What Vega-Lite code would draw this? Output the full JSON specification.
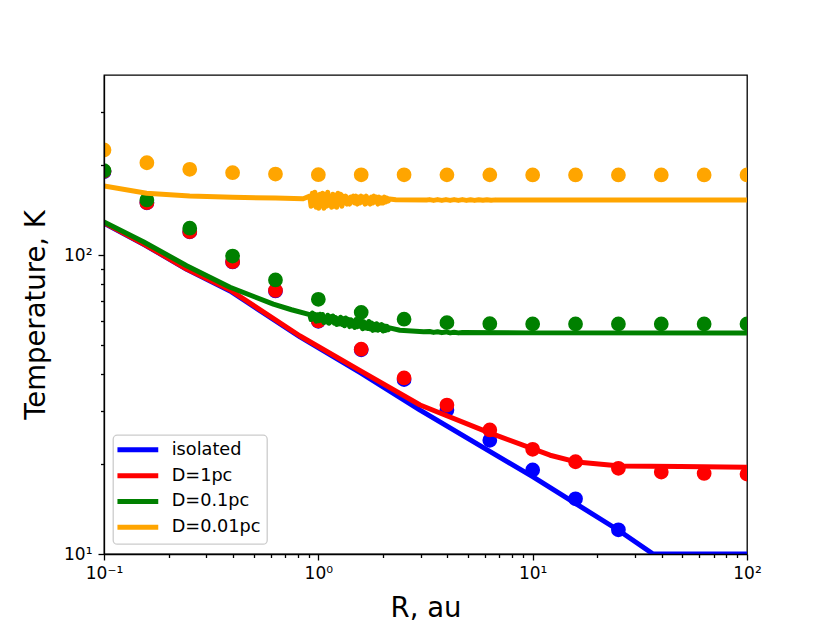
{
  "$schema": "https://vega.github.io/schema/vega-lite/v6.json",
  "width": 643,
  "height": 479,
  "autosize": "none",
  "padding": {"left": 104, "top": 75, "right": 83, "bottom": 69},
  "background": "white",
  "config": {
    "font": "DejaVu Sans",
    "view": {"stroke": "black", "strokeWidth": 1.3},
    "legend": {
      "fillColor": "rgba(255,255,255,0.8)",
      "strokeColor": "#cccccc",
      "strokeWidth": 1.3,
      "cornerRadius": 4,
      "padding": 6,
      "rowPadding": 4.8,
      "labelFont": "DejaVu Sans",
      "labelFontSize": 17.7,
      "labelColor": "black",
      "symbolType": "M-3.4,0H3.4",
      "symbolSize": 144,
      "symbolStrokeWidth": 5,
      "symbolOffset": 10,
      "labelOffset": 25
    }
  },
  "datasets": {
    "lines": [
      {"s": "isolated", "R": 0.1, "T": 127.9},
      {"s": "isolated", "R": 0.1553, "T": 108.0},
      {"s": "isolated", "R": 0.2431, "T": 89.6},
      {"s": "isolated", "R": 0.3873, "T": 75.8},
      {"s": "isolated", "R": 0.8216, "T": 53.2},
      {"s": "isolated", "R": 1.582, "T": 40.3},
      {"s": "isolated", "R": 2.983, "T": 30.3},
      {"s": "isolated", "R": 10.04, "T": 18.1},
      {"s": "isolated", "R": 25.03, "T": 12.03},
      {"s": "isolated", "R": 36.46, "T": 10},
      {"s": "isolated", "R": 100, "T": 10},

      {"s": "D=1pc", "R": 0.1, "T": 128.2},
      {"s": "D=1pc", "R": 0.1553, "T": 108.2},
      {"s": "D=1pc", "R": 0.2431, "T": 89.8},
      {"s": "D=1pc", "R": 0.3873, "T": 76.4},
      {"s": "D=1pc", "R": 0.8216, "T": 53.6},
      {"s": "D=1pc", "R": 1.582, "T": 40.9},
      {"s": "D=1pc", "R": 2.983, "T": 31.5},
      {"s": "D=1pc", "R": 6.127, "T": 25.6},
      {"s": "D=1pc", "R": 12.06, "T": 21.4},
      {"s": "D=1pc", "R": 16.11, "T": 20.3},
      {"s": "D=1pc", "R": 25.57, "T": 19.7},
      {"s": "D=1pc", "R": 48.8, "T": 19.6},
      {"s": "D=1pc", "R": 100, "T": 19.5},

      {"s": "D=0.1pc", "R": 0.1, "T": 129},
      {"s": "D=0.1pc", "R": 0.1526, "T": 110.8},
      {"s": "D=0.1pc", "R": 0.2431, "T": 92.1},
      {"s": "D=0.1pc", "R": 0.3873, "T": 78.0},
      {"s": "D=0.1pc", "R": 0.6166, "T": 68.5},
      {"s": "D=0.1pc", "R": 0.75, "T": 65.6},
      {"s": "D=0.1pc", "R": 0.9120, "T": 63.22},
      {"s": "D=0.1pc", "R": 0.9247, "T": 60.83},
      {"s": "D=0.1pc", "R": 0.9376, "T": 63.96},
      {"s": "D=0.1pc", "R": 0.9506, "T": 61.10},
      {"s": "D=0.1pc", "R": 0.9638, "T": 63.31},
      {"s": "D=0.1pc", "R": 0.9772, "T": 60.00},
      {"s": "D=0.1pc", "R": 0.9908, "T": 63.13},
      {"s": "D=0.1pc", "R": 1.0046, "T": 60.28},
      {"s": "D=0.1pc", "R": 1.0186, "T": 63.40},
      {"s": "D=0.1pc", "R": 1.0328, "T": 60.55},
      {"s": "D=0.1pc", "R": 1.0471, "T": 63.22},
      {"s": "D=0.1pc", "R": 1.0617, "T": 59.45},
      {"s": "D=0.1pc", "R": 1.0765, "T": 62.12},
      {"s": "D=0.1pc", "R": 1.0914, "T": 59.73},
      {"s": "D=0.1pc", "R": 1.1066, "T": 62.85},
      {"s": "D=0.1pc", "R": 1.1220, "T": 59.08},
      {"s": "D=0.1pc", "R": 1.1376, "T": 62.21},
      {"s": "D=0.1pc", "R": 1.1535, "T": 59.82},
      {"s": "D=0.1pc", "R": 1.1695, "T": 62.49},
      {"s": "D=0.1pc", "R": 1.1858, "T": 59.17},
      {"s": "D=0.1pc", "R": 1.2023, "T": 61.84},
      {"s": "D=0.1pc", "R": 1.2190, "T": 58.53},
      {"s": "D=0.1pc", "R": 1.2359, "T": 61.20},
      {"s": "D=0.1pc", "R": 1.2531, "T": 58.81},
      {"s": "D=0.1pc", "R": 1.2706, "T": 61.93},
      {"s": "D=0.1pc", "R": 1.2882, "T": 58.62},
      {"s": "D=0.1pc", "R": 1.3062, "T": 61.29},
      {"s": "D=0.1pc", "R": 1.3243, "T": 57.98},
      {"s": "D=0.1pc", "R": 1.3428, "T": 61.57},
      {"s": "D=0.1pc", "R": 1.3614, "T": 58.71},
      {"s": "D=0.1pc", "R": 1.3804, "T": 60.92},
      {"s": "D=0.1pc", "R": 1.3996, "T": 57.61},
      {"s": "D=0.1pc", "R": 1.4191, "T": 60.74},
      {"s": "D=0.1pc", "R": 1.4388, "T": 57.89},
      {"s": "D=0.1pc", "R": 1.4588, "T": 60.10},
      {"s": "D=0.1pc", "R": 1.4791, "T": 57.24},
      {"s": "D=0.1pc", "R": 1.4997, "T": 60.83},
      {"s": "D=0.1pc", "R": 1.5205, "T": 57.52},
      {"s": "D=0.1pc", "R": 1.5417, "T": 60.19},
      {"s": "D=0.1pc", "R": 1.5631, "T": 57.80},
      {"s": "D=0.1pc", "R": 1.5849, "T": 60.46},
      {"s": "D=0.1pc", "R": 1.6069, "T": 56.69},
      {"s": "D=0.1pc", "R": 1.6293, "T": 59.82},
      {"s": "D=0.1pc", "R": 1.6520, "T": 56.97},
      {"s": "D=0.1pc", "R": 1.6749, "T": 59.18},
      {"s": "D=0.1pc", "R": 1.6982, "T": 56.78},
      {"s": "D=0.1pc", "R": 1.7219, "T": 59.91},
      {"s": "D=0.1pc", "R": 1.7458, "T": 56.60},
      {"s": "D=0.1pc", "R": 1.7701, "T": 59.27},
      {"s": "D=0.1pc", "R": 1.7947, "T": 55.96},
      {"s": "D=0.1pc", "R": 1.8197, "T": 58.62},
      {"s": "D=0.1pc", "R": 1.8450, "T": 56.23},
      {"s": "D=0.1pc", "R": 1.8707, "T": 58.90},
      {"s": "D=0.1pc", "R": 1.8967, "T": 56.05},
      {"s": "D=0.1pc", "R": 1.9231, "T": 58.26},
      {"s": "D=0.1pc", "R": 1.9498, "T": 56.33},
      {"s": "D=0.1pc", "R": 1.9770, "T": 58.53},
      {"s": "D=0.1pc", "R": 2.0045, "T": 55.68},
      {"s": "D=0.1pc", "R": 2.0324, "T": 57.89},
      {"s": "D=0.1pc", "R": 2.0606, "T": 55.96},
      {"s": "D=0.1pc", "R": 2.0893, "T": 57.71},
      {"s": "D=0.1pc", "R": 2.1184, "T": 56.23},
      {"s": "D=0.1pc", "R": 2.1478, "T": 57.06},
      {"s": "D=0.1pc", "R": 2.4, "T": 56.0},
      {"s": "D=0.1pc", "R": 3.1, "T": 55.4},
      {"s": "D=0.1pc", "R": 3.3, "T": 55.5},
      {"s": "D=0.1pc", "R": 3.45, "T": 55.1},
      {"s": "D=0.1pc", "R": 3.6, "T": 55.4},
      {"s": "D=0.1pc", "R": 3.77, "T": 55.0},
      {"s": "D=0.1pc", "R": 3.94, "T": 55.3},
      {"s": "D=0.1pc", "R": 4.12, "T": 54.9},
      {"s": "D=0.1pc", "R": 4.3, "T": 55.2},
      {"s": "D=0.1pc", "R": 4.5, "T": 54.9},
      {"s": "D=0.1pc", "R": 4.7, "T": 55.1},
      {"s": "D=0.1pc", "R": 10, "T": 54.9},
      {"s": "D=0.1pc", "R": 100, "T": 54.8},

      {"s": "D=0.01pc", "R": 0.1, "T": 170.1},
      {"s": "D=0.01pc", "R": 0.158, "T": 160.8},
      {"s": "D=0.01pc", "R": 0.251, "T": 157.5},
      {"s": "D=0.01pc", "R": 0.398, "T": 156.0},
      {"s": "D=0.01pc", "R": 0.631, "T": 155.1},
      {"s": "D=0.01pc", "R": 0.85, "T": 154.2},
      {"s": "D=0.01pc", "R": 0.9120, "T": 157.4},
      {"s": "D=0.01pc", "R": 0.9247, "T": 145.6},
      {"s": "D=0.01pc", "R": 0.9376, "T": 160.9},
      {"s": "D=0.01pc", "R": 0.9506, "T": 146.8},
      {"s": "D=0.01pc", "R": 0.9638, "T": 162.1},
      {"s": "D=0.01pc", "R": 0.9772, "T": 144.5},
      {"s": "D=0.01pc", "R": 0.9908, "T": 158.6},
      {"s": "D=0.01pc", "R": 1.0046, "T": 143.3},
      {"s": "D=0.01pc", "R": 1.0186, "T": 159.8},
      {"s": "D=0.01pc", "R": 1.0328, "T": 148.0},
      {"s": "D=0.01pc", "R": 1.0471, "T": 160.9},
      {"s": "D=0.01pc", "R": 1.0617, "T": 143.3},
      {"s": "D=0.01pc", "R": 1.0765, "T": 159.8},
      {"s": "D=0.01pc", "R": 1.0914, "T": 145.6},
      {"s": "D=0.01pc", "R": 1.1066, "T": 162.1},
      {"s": "D=0.01pc", "R": 1.1220, "T": 146.8},
      {"s": "D=0.01pc", "R": 1.1376, "T": 157.4},
      {"s": "D=0.01pc", "R": 1.1535, "T": 144.5},
      {"s": "D=0.01pc", "R": 1.1695, "T": 159.8},
      {"s": "D=0.01pc", "R": 1.1858, "T": 145.6},
      {"s": "D=0.01pc", "R": 1.2023, "T": 158.6},
      {"s": "D=0.01pc", "R": 1.2190, "T": 144.5},
      {"s": "D=0.01pc", "R": 1.2359, "T": 160.9},
      {"s": "D=0.01pc", "R": 1.2531, "T": 148.0},
      {"s": "D=0.01pc", "R": 1.2706, "T": 159.8},
      {"s": "D=0.01pc", "R": 1.2882, "T": 145.6},
      {"s": "D=0.01pc", "R": 1.3062, "T": 157.4},
      {"s": "D=0.01pc", "R": 1.3243, "T": 149.2},
      {"s": "D=0.01pc", "R": 1.3428, "T": 157.4},
      {"s": "D=0.01pc", "R": 1.3614, "T": 148.0},
      {"s": "D=0.01pc", "R": 1.3804, "T": 155.05},
      {"s": "D=0.01pc", "R": 1.3996, "T": 148.0},
      {"s": "D=0.01pc", "R": 1.4191, "T": 156.2},
      {"s": "D=0.01pc", "R": 1.4388, "T": 150.35},
      {"s": "D=0.01pc", "R": 1.4588, "T": 157.4},
      {"s": "D=0.01pc", "R": 1.4791, "T": 149.2},
      {"s": "D=0.01pc", "R": 1.4997, "T": 157.4},
      {"s": "D=0.01pc", "R": 1.5205, "T": 148.0},
      {"s": "D=0.01pc", "R": 1.5417, "T": 156.2},
      {"s": "D=0.01pc", "R": 1.5631, "T": 149.2},
      {"s": "D=0.01pc", "R": 1.5849, "T": 157.4},
      {"s": "D=0.01pc", "R": 1.6069, "T": 150.35},
      {"s": "D=0.01pc", "R": 1.6293, "T": 156.2},
      {"s": "D=0.01pc", "R": 1.6520, "T": 148.0},
      {"s": "D=0.01pc", "R": 1.6749, "T": 157.4},
      {"s": "D=0.01pc", "R": 1.6982, "T": 149.2},
      {"s": "D=0.01pc", "R": 1.7219, "T": 155.05},
      {"s": "D=0.01pc", "R": 1.7458, "T": 148.0},
      {"s": "D=0.01pc", "R": 1.7701, "T": 156.2},
      {"s": "D=0.01pc", "R": 1.7947, "T": 149.2},
      {"s": "D=0.01pc", "R": 1.8197, "T": 157.4},
      {"s": "D=0.01pc", "R": 1.8450, "T": 150.35},
      {"s": "D=0.01pc", "R": 1.8707, "T": 156.2},
      {"s": "D=0.01pc", "R": 1.8967, "T": 148.0},
      {"s": "D=0.01pc", "R": 1.9231, "T": 156.2},
      {"s": "D=0.01pc", "R": 1.9498, "T": 149.2},
      {"s": "D=0.01pc", "R": 1.9770, "T": 155.05},
      {"s": "D=0.01pc", "R": 2.0045, "T": 149.2},
      {"s": "D=0.01pc", "R": 2.0324, "T": 156.2},
      {"s": "D=0.01pc", "R": 2.0606, "T": 150.35},
      {"s": "D=0.01pc", "R": 2.0893, "T": 155.05},
      {"s": "D=0.01pc", "R": 2.1184, "T": 151.5},
      {"s": "D=0.01pc", "R": 2.1478, "T": 153.9},
      {"s": "D=0.01pc", "R": 2.3, "T": 153.0},
      {"s": "D=0.01pc", "R": 3.2, "T": 152.8},
      {"s": "D=0.01pc", "R": 3.3, "T": 153.2},
      {"s": "D=0.01pc", "R": 3.45, "T": 152.3},
      {"s": "D=0.01pc", "R": 3.6, "T": 153.2},
      {"s": "D=0.01pc", "R": 3.77, "T": 152.3},
      {"s": "D=0.01pc", "R": 3.94, "T": 153.2},
      {"s": "D=0.01pc", "R": 4.12, "T": 152.3},
      {"s": "D=0.01pc", "R": 4.3, "T": 153.2},
      {"s": "D=0.01pc", "R": 4.5, "T": 152.3},
      {"s": "D=0.01pc", "R": 4.7, "T": 153.2},
      {"s": "D=0.01pc", "R": 4.91, "T": 152.3},
      {"s": "D=0.01pc", "R": 5.13, "T": 153.1},
      {"s": "D=0.01pc", "R": 5.36, "T": 152.3},
      {"s": "D=0.01pc", "R": 5.6, "T": 153.1},
      {"s": "D=0.01pc", "R": 5.86, "T": 152.4},
      {"s": "D=0.01pc", "R": 6.12, "T": 153.0},
      {"s": "D=0.01pc", "R": 6.4, "T": 152.4},
      {"s": "D=0.01pc", "R": 6.7, "T": 152.9},
      {"s": "D=0.01pc", "R": 7.0, "T": 152.7},
      {"s": "D=0.01pc", "R": 100, "T": 152.7}
    ],
    "pts": [
      {"s": "isolated", "R": 0.1, "T": 190},
      {"s": "isolated", "R": 0.1585, "T": 149.5},
      {"s": "isolated", "R": 0.2512, "T": 119.5},
      {"s": "isolated", "R": 0.3981, "T": 94.8},
      {"s": "isolated", "R": 0.631, "T": 75.8},
      {"s": "isolated", "R": 1, "T": 60},
      {"s": "isolated", "R": 1.585, "T": 48.2},
      {"s": "isolated", "R": 2.512, "T": 38.3},
      {"s": "isolated", "R": 3.981, "T": 30.3},
      {"s": "isolated", "R": 6.31, "T": 24.0},
      {"s": "isolated", "R": 10, "T": 19.1},
      {"s": "isolated", "R": 15.85, "T": 15.3},
      {"s": "isolated", "R": 25.12, "T": 12.05},

      {"s": "D=1pc", "R": 0.1, "T": 190.5},
      {"s": "D=1pc", "R": 0.1585, "T": 149.6},
      {"s": "D=1pc", "R": 0.2512, "T": 119.7},
      {"s": "D=1pc", "R": 0.3981, "T": 95.0},
      {"s": "D=1pc", "R": 0.631, "T": 76.1},
      {"s": "D=1pc", "R": 1, "T": 60.2},
      {"s": "D=1pc", "R": 1.585, "T": 48.4},
      {"s": "D=1pc", "R": 2.512, "T": 38.8},
      {"s": "D=1pc", "R": 3.981, "T": 31.5},
      {"s": "D=1pc", "R": 6.31, "T": 26.0},
      {"s": "D=1pc", "R": 10, "T": 22.4},
      {"s": "D=1pc", "R": 15.85, "T": 20.35},
      {"s": "D=1pc", "R": 25.12, "T": 19.35},
      {"s": "D=1pc", "R": 39.81, "T": 18.8},
      {"s": "D=1pc", "R": 63.1, "T": 18.6},
      {"s": "D=1pc", "R": 100, "T": 18.5},

      {"s": "D=0.1pc", "R": 0.1, "T": 191.4},
      {"s": "D=0.1pc", "R": 0.1585, "T": 152.8},
      {"s": "D=0.1pc", "R": 0.2512, "T": 122.9},
      {"s": "D=0.1pc", "R": 0.3981, "T": 99.2},
      {"s": "D=0.1pc", "R": 0.631, "T": 82.5},
      {"s": "D=0.1pc", "R": 1, "T": 71.1},
      {"s": "D=0.1pc", "R": 1.585, "T": 64.3},
      {"s": "D=0.1pc", "R": 2.512, "T": 61.0},
      {"s": "D=0.1pc", "R": 3.981, "T": 59.4},
      {"s": "D=0.1pc", "R": 6.31, "T": 58.9},
      {"s": "D=0.1pc", "R": 10, "T": 58.8},
      {"s": "D=0.1pc", "R": 15.85, "T": 58.8},
      {"s": "D=0.1pc", "R": 25.12, "T": 58.8},
      {"s": "D=0.1pc", "R": 39.81, "T": 58.8},
      {"s": "D=0.1pc", "R": 63.1, "T": 58.8},
      {"s": "D=0.1pc", "R": 100, "T": 58.8},

      {"s": "D=0.01pc", "R": 0.1, "T": 224.5},
      {"s": "D=0.01pc", "R": 0.1585, "T": 203.5},
      {"s": "D=0.01pc", "R": 0.2512, "T": 193.5},
      {"s": "D=0.01pc", "R": 0.3981, "T": 188.5},
      {"s": "D=0.01pc", "R": 0.631, "T": 186.6},
      {"s": "D=0.01pc", "R": 1, "T": 185.6},
      {"s": "D=0.01pc", "R": 1.585, "T": 185.5},
      {"s": "D=0.01pc", "R": 2.512, "T": 185.5},
      {"s": "D=0.01pc", "R": 3.981, "T": 185.4},
      {"s": "D=0.01pc", "R": 6.31, "T": 185.4},
      {"s": "D=0.01pc", "R": 10, "T": 185.3},
      {"s": "D=0.01pc", "R": 15.85, "T": 185.3},
      {"s": "D=0.01pc", "R": 25.12, "T": 185.3},
      {"s": "D=0.01pc", "R": 39.81, "T": 185.3},
      {"s": "D=0.01pc", "R": 63.1, "T": 185.3},
      {"s": "D=0.01pc", "R": 100, "T": 185.3}
    ]
  },
  "encoding": {
    "x": {
      "field": "R",
      "type": "quantitative",
      "scale": {"type": "log", "domain": [0.1, 100], "nice": false},
      "axis": {
        "title": "R, au",
        "titleFont": "DejaVu Sans",
        "titleFontSize": 27.5,
        "titleFontWeight": "normal",
        "titleColor": "black",
        "titlePadding": 13,
        "values": [0.1, 0.2, 0.3, 0.4, 0.5, 0.6, 0.7, 0.8, 0.9, 1, 2, 3, 4, 5, 6, 7, 8, 9, 10, 20, 30, 40, 50, 60, 70, 80, 90, 100],
        "labelExpr": "datum.value === 0.1 ? '10⁻¹' : datum.value === 1 ? '10⁰' : datum.value === 10 ? '10¹' : datum.value === 100 ? '10²' : ''",
        "labelFont": "DejaVu Sans",
        "labelFontSize": 17,
        "labelColor": "black",
        "labelFlush": false,
        "labelOverlap": false,
        "labelPadding": 5,
        "tickColor": "black",
        "tickWidth": 1.3,
        "tickSize": {"condition": {"test": "datum.value === 0.1 || datum.value === 1 || datum.value === 10 || datum.value === 100", "value": 6}, "value": 3.5},
        "domainColor": "black",
        "domainWidth": 1.3,
        "grid": false,
        "zindex": 1
      }
    },
    "y": {
      "field": "T",
      "type": "quantitative",
      "scale": {"type": "log", "domain": [10, 400], "nice": false},
      "axis": {
        "title": "Temperature, K",
        "titleFont": "DejaVu Sans",
        "titleFontSize": 27.5,
        "titleFontWeight": "normal",
        "titleColor": "black",
        "titlePadding": 13,
        "values": [10, 20, 30, 40, 50, 60, 70, 80, 90, 100, 200, 300],
        "labelExpr": "datum.value === 10 ? '10¹' : datum.value === 100 ? '10²' : ''",
        "labelFont": "DejaVu Sans",
        "labelFontSize": 17,
        "labelColor": "black",
        "labelFlush": false,
        "labelOverlap": false,
        "labelPadding": 6,
        "tickColor": "black",
        "tickWidth": 1.3,
        "tickSize": {"condition": {"test": "datum.value === 10 || datum.value === 100", "value": 6}, "value": 3.5},
        "domainColor": "black",
        "domainWidth": 1.3,
        "grid": false,
        "zindex": 1
      }
    }
  },
  "layer": [
    {
      "data": {"name": "lines"},
      "transform": [{"filter": "datum.s === 'isolated'"}],
      "mark": {"type": "line", "strokeWidth": 5, "strokeJoin": "round", "clip": true},
      "encoding": {
        "color": {
          "field": "s", "type": "nominal",
          "scale": {"domain": ["isolated", "D=1pc", "D=0.1pc", "D=0.01pc"], "range": ["#0000ff", "#ff0000", "#008000", "#ffa500"]},
          "legend": {"orient": "none", "legendX": 9, "legendY": 360, "title": null}
        }
      }
    },
    {
      "data": {"name": "pts"},
      "transform": [{"filter": "datum.s === 'isolated'"}],
      "mark": {"type": "circle", "size": 218, "opacity": 1, "color": "#0000ff", "clip": true}
    },
    {
      "data": {"name": "lines"},
      "transform": [{"filter": "datum.s === 'D=1pc'"}],
      "mark": {"type": "line", "strokeWidth": 5, "strokeJoin": "round", "clip": true},
      "encoding": {
        "color": {
          "field": "s", "type": "nominal",
          "scale": {"domain": ["isolated", "D=1pc", "D=0.1pc", "D=0.01pc"], "range": ["#0000ff", "#ff0000", "#008000", "#ffa500"]},
          "legend": {"orient": "none", "legendX": 9, "legendY": 360, "title": null}
        }
      }
    },
    {
      "data": {"name": "pts"},
      "transform": [{"filter": "datum.s === 'D=1pc'"}],
      "mark": {"type": "circle", "size": 218, "opacity": 1, "color": "#ff0000", "clip": true}
    },
    {
      "data": {"name": "lines"},
      "transform": [{"filter": "datum.s === 'D=0.1pc'"}],
      "mark": {"type": "line", "strokeWidth": 5, "strokeJoin": "round", "clip": true},
      "encoding": {
        "color": {
          "field": "s", "type": "nominal",
          "scale": {"domain": ["isolated", "D=1pc", "D=0.1pc", "D=0.01pc"], "range": ["#0000ff", "#ff0000", "#008000", "#ffa500"]},
          "legend": {"orient": "none", "legendX": 9, "legendY": 360, "title": null}
        }
      }
    },
    {
      "data": {"name": "pts"},
      "transform": [{"filter": "datum.s === 'D=0.1pc'"}],
      "mark": {"type": "circle", "size": 218, "opacity": 1, "color": "#008000", "clip": true}
    },
    {
      "data": {"name": "lines"},
      "transform": [{"filter": "datum.s === 'D=0.01pc'"}],
      "mark": {"type": "line", "strokeWidth": 5, "strokeJoin": "round", "clip": true},
      "encoding": {
        "color": {
          "field": "s", "type": "nominal",
          "scale": {"domain": ["isolated", "D=1pc", "D=0.1pc", "D=0.01pc"], "range": ["#0000ff", "#ff0000", "#008000", "#ffa500"]},
          "legend": {"orient": "none", "legendX": 9, "legendY": 360, "title": null}
        }
      }
    },
    {
      "data": {"name": "pts"},
      "transform": [{"filter": "datum.s === 'D=0.01pc'"}],
      "mark": {"type": "circle", "size": 218, "opacity": 1, "color": "#ffa500", "clip": true}
    }
  ]
}
